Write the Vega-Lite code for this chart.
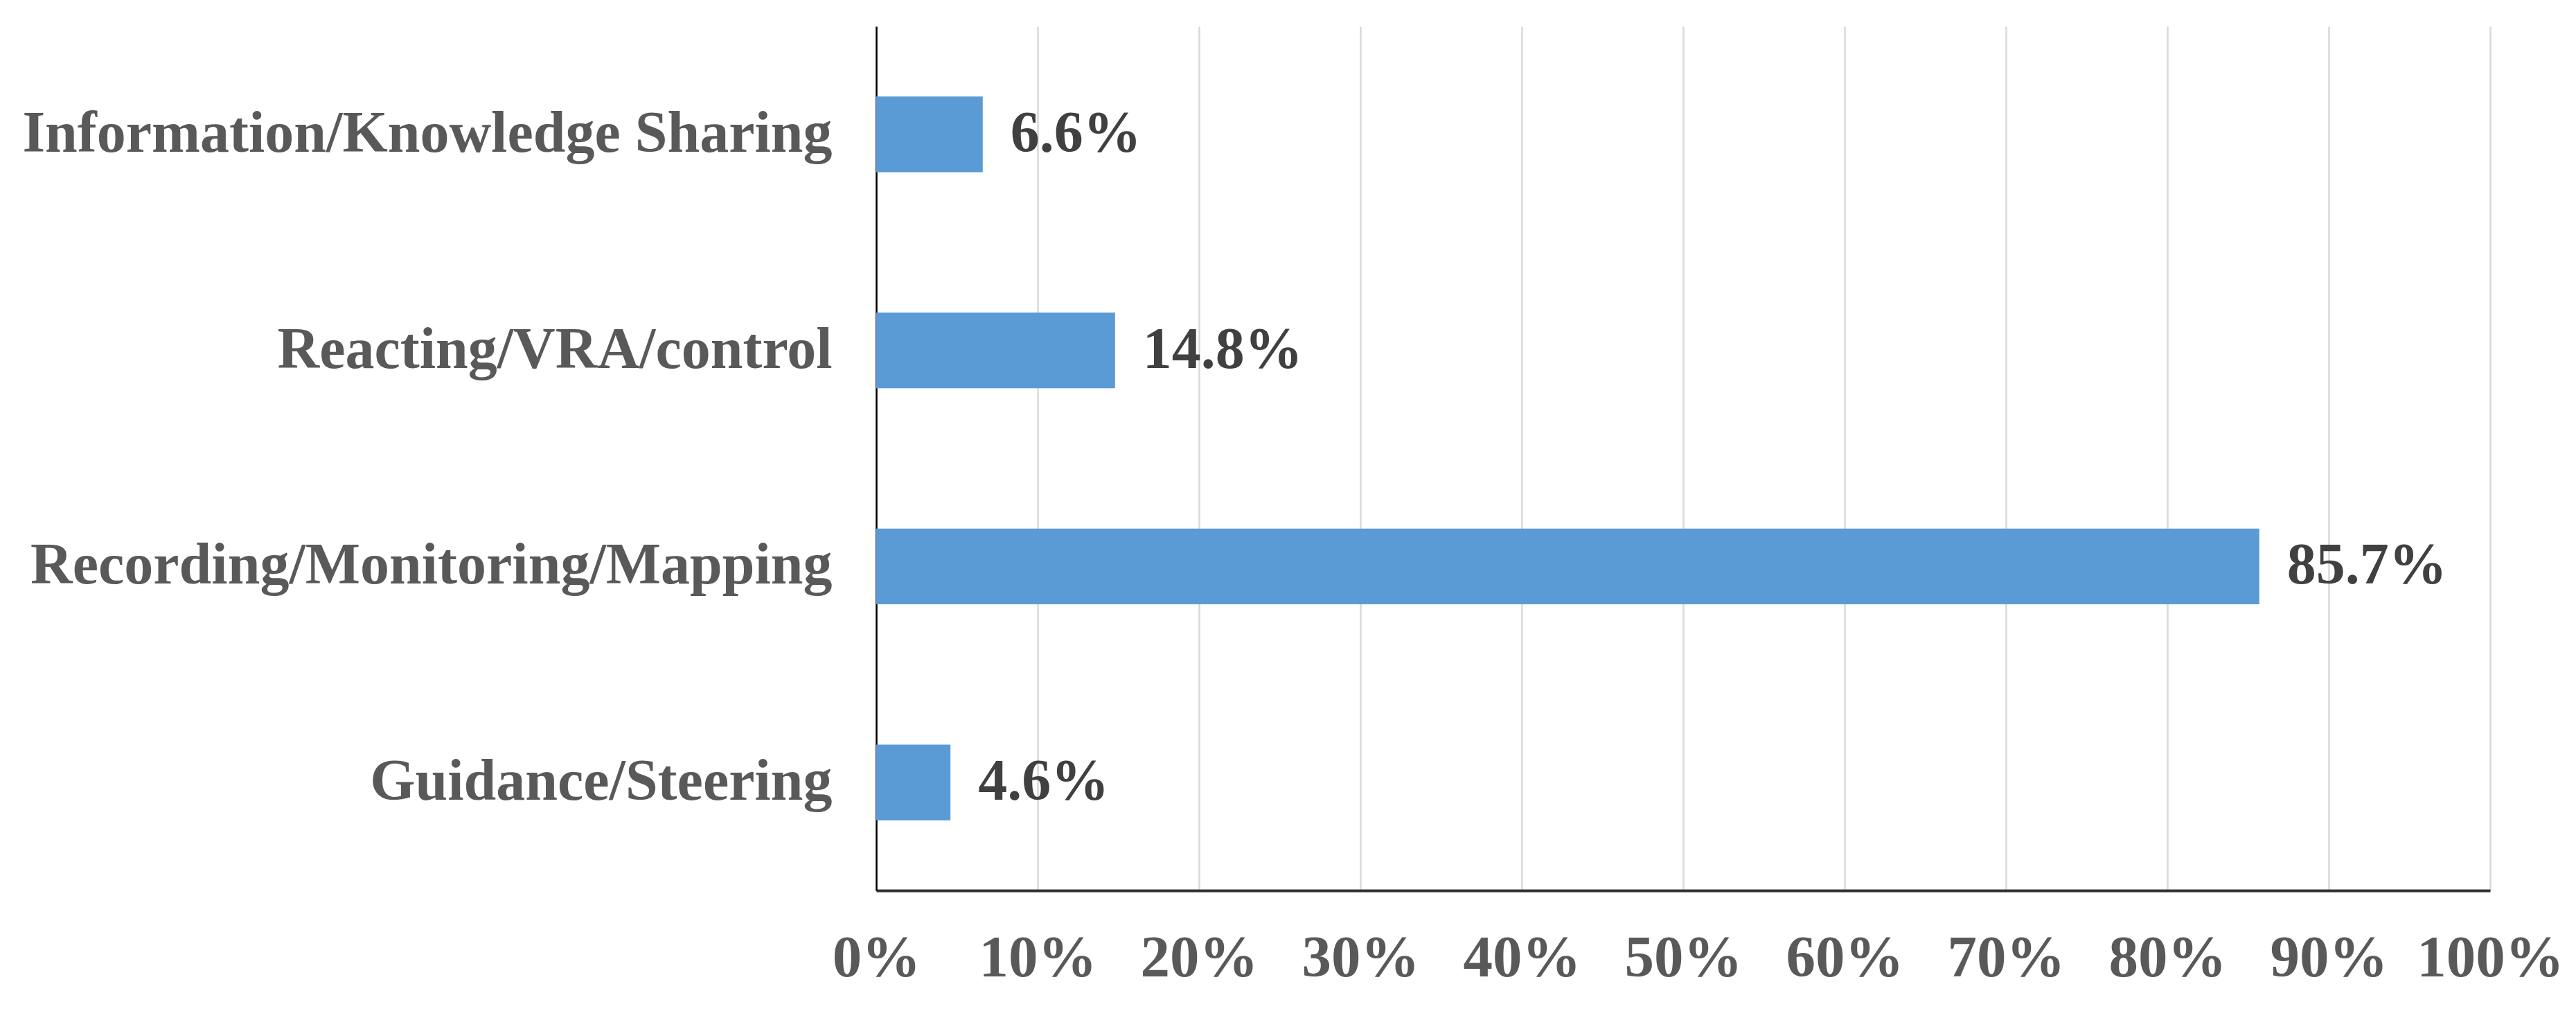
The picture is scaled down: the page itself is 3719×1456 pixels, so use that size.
{
  "$schema": "https://vega.github.io/schema/vega-lite/v6.json",
  "width": 2330,
  "height": 1247,
  "autosize": {"type": "none"},
  "padding": {"left": 1265, "top": 38, "right": 124, "bottom": 171},
  "background": "white",
  "config": {"view": {"stroke": null}, "font": "Liberation Serif"},
  "data": {
    "values": [
      {"category": "Information/Knowledge Sharing", "value": 0.066},
      {"category": "Reacting/VRA/control", "value": 0.148},
      {"category": "Recording/Monitoring/Mapping", "value": 0.857},
      {"category": "Guidance/Steering", "value": 0.046}
    ]
  },
  "encoding": {
    "y": {
      "field": "category",
      "type": "nominal",
      "sort": null,
      "scale": {"paddingInner": 0.65, "paddingOuter": 0.325},
      "axis": {
        "title": null,
        "ticks": false,
        "domainColor": "#000000",
        "domainWidth": 2.5,
        "labelFont": "Liberation Serif",
        "labelFontWeight": "bold",
        "labelFontSize": 84,
        "labelColor": "#595959",
        "labelPadding": 64,
        "labelLimit": 2000
      }
    },
    "x": {
      "field": "value",
      "type": "quantitative",
      "scale": {"domain": [0, 1], "nice": false},
      "axis": {
        "title": null,
        "format": ".0%",
        "values": [0, 0.1, 0.2, 0.3, 0.4, 0.5, 0.6, 0.7, 0.8, 0.9, 1],
        "ticks": false,
        "domainColor": "#333333",
        "domainWidth": 4,
        "gridColor": "#d9d9d9",
        "gridWidth": 2.5,
        "labelFont": "Liberation Serif",
        "labelFontWeight": "bold",
        "labelFontSize": 85,
        "labelColor": "#595959",
        "labelPadding": 56,
        "labelFlush": false,
        "labelLimit": 1000,
        "labelOverlap": false
      }
    }
  },
  "layer": [
    {"mark": {"type": "bar", "color": "#5B9BD5"}},
    {
      "mark": {
        "type": "text",
        "align": "left",
        "baseline": "middle",
        "dx": 40,
        "font": "Liberation Serif",
        "fontWeight": "bold",
        "fontSize": 84,
        "color": "#404040"
      },
      "encoding": {"text": {"field": "value", "type": "quantitative", "format": ".1%"}}
    }
  ]
}
